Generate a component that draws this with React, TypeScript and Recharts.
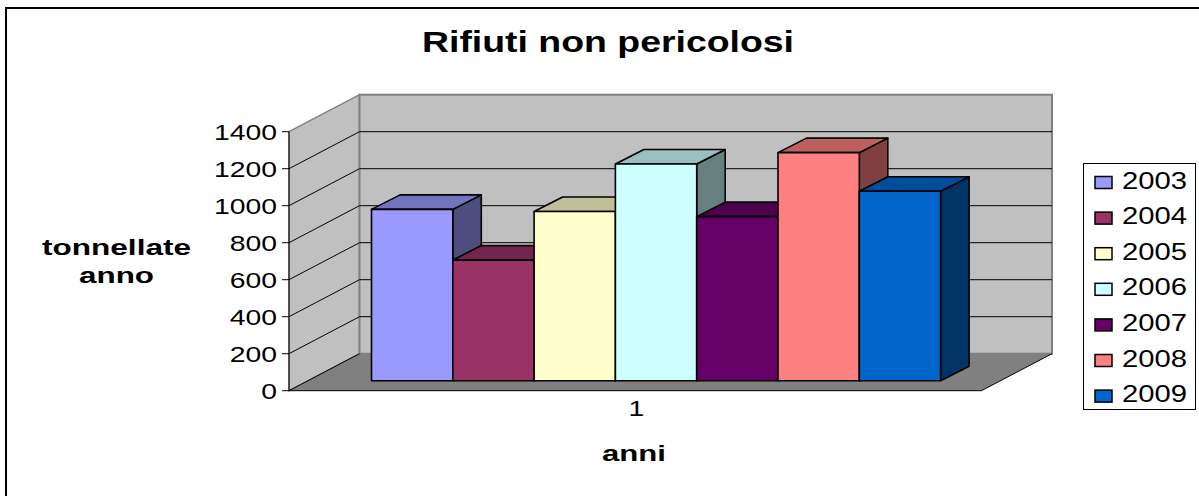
import React from "react";
import { BarChart, Bar, XAxis, YAxis, CartesianGrid, Legend, Label, Customized } from "recharts";

const categories = ["1"];
const years = ["2003", "2004", "2005", "2006", "2007", "2008", "2009"];
const tonnes = [926, 652, 915, 1171, 887, 1233, 1024];
const colors = ["#9999FF", "#993366", "#FFFFCC", "#CCFFFF", "#660066", "#FF8080", "#0066CC"];
const yTicks = [0, 200, 400, 600, 800, 1000, 1200, 1400];
const titleText = "Rifiuti non pericolosi";
const xTitle = "anni";
const yTitleLines = ["tonnellate", "anno"];

const data = categories.map((name) => {
  const row: Record<string, string | number> = { name };
  years.forEach((y, i) => (row[y] = tonnes[i]));
  return row;
});

const FONT = "'Liberation Sans', Arial, sans-serif";
const W = 1199, H = 496;
const plot = { left: 289, right: 981.5, top: 131.7, bottom: 390.7 };
const wall = { dx: 70.5, dy: -37 };
const barShift = { dx: 20.5, dy: -10 };
const barDepth = { dx: 28.5, dy: -14.5 };
const DIGIT_W = 15.75;

function shade(hex: string, k: number) {
  const n = parseInt(hex.slice(1), 16);
  const f = (v: number) => Math.round(v * k);
  return `rgb(${f((n >> 16) & 255)},${f((n >> 8) & 255)},${f(n & 255)})`;
}

function Box3D(props: any) {
  const { x, y, width, height, fill } = props;
  const l = x + barShift.dx, t = y + barShift.dy, r = l + width, b = t + height;
  const { dx, dy } = barDepth;
  const common = { stroke: "#000", strokeWidth: 1.6, strokeLinejoin: "round" as const };
  return (
    <g>
      <polygon points={`${r},${t} ${r + dx},${t + dy} ${r + dx},${b + dy} ${r},${b}`} fill={shade(fill, 0.5)} {...common} />
      <polygon points={`${l},${t} ${l + dx},${t + dy} ${r + dx},${t + dy} ${r},${t}`} fill={shade(fill, 0.75)} {...common} />
      <rect x={l} y={t} width={width} height={height} fill={fill} {...common} />
    </g>
  );
}

function WallShapes() {
  const { left, right, top, bottom } = plot;
  const bl = left + wall.dx, br = right + wall.dx, bt = top + wall.dy, bb = bottom + wall.dy;
  return (
    <g>
      <polygon points={`${left},${top} ${bl},${bt} ${bl},${bb} ${left},${bottom}`} fill="#C0C0C0" stroke="#808080" strokeWidth={1.5} />
      <rect x={bl} y={bt} width={br - bl} height={bb - bt} fill="#C0C0C0" stroke="#808080" strokeWidth={2} />
      <polygon points={`${left},${bottom} ${bl},${bb} ${br},${bb} ${right},${bottom}`} fill="#808080" />
      <line x1={right} y1={bottom} x2={br} y2={bb} stroke="#000" strokeWidth={1} />
      <line x1={left} y1={bottom} x2={bl} y2={bb} stroke="#000" strokeWidth={1} />
    </g>
  );
}

function Frame() {
  return (
    <g>
      <path d={`M6 ${H} V8 H${W}`} fill="none" stroke="#000" strokeWidth={2} />
      <text x={608} y={52} textAnchor="middle" fontFamily={FONT} fontWeight="bold" fontSize={30} textLength={372} lengthAdjust="spacingAndGlyphs" fill="#000">
        {titleText}
      </text>
    </g>
  );
}

function GridLine(props: any) {
  const { x1, x2, y1, index } = props;
  const skip = Math.abs(y1 - plot.top) < 2 || Math.abs(y1 - plot.bottom) < 2;
  return (
    <g>
      {index === 0 && <WallShapes />}
      {!skip && (
        <polyline
          points={`${x1},${y1} ${x1 + wall.dx},${y1 + wall.dy} ${x2 + wall.dx},${y1 + wall.dy}`}
          fill="none"
          stroke="#000"
          strokeWidth={1}
        />
      )}
    </g>
  );
}

function YTick(props: any) {
  const { x, y, payload } = props;
  const s = String(payload.value);
  return (
    <text x={x} y={y + 8} textAnchor="end" fontFamily={FONT} fontSize={22} fill="#000" textLength={s.length * DIGIT_W} lengthAdjust="spacingAndGlyphs">
      {s}
    </text>
  );
}

function XTick(props: any) {
  const { x, payload } = props;
  const s = String(payload.value);
  return (
    <text x={x + 1} y={416} textAnchor="middle" fontFamily={FONT} fontSize={22} fill="#000" textLength={s.length * DIGIT_W} lengthAdjust="spacingAndGlyphs">
      {s}
    </text>
  );
}

function YTitle() {
  const widths = [149, 75];
  const baselines = [255, 283];
  return (
    <g>
      {yTitleLines.map((t, i) => (
        <text key={t} x={116.5} y={baselines[i]} textAnchor="middle" fontFamily={FONT} fontWeight="bold" fontSize={22} fill="#000" textLength={widths[i]} lengthAdjust="spacingAndGlyphs">
          {t}
        </text>
      ))}
    </g>
  );
}

function XTitle() {
  return (
    <text x={634} y={461} textAnchor="middle" fontFamily={FONT} fontWeight="bold" fontSize={22} fill="#000" textLength={64} lengthAdjust="spacingAndGlyphs">
      {xTitle}
    </text>
  );
}

function LegendBox(props: any) {
  const items = props.payload || [];
  return (
    <svg width={114} height={250} style={{ display: "block" }}>
      <rect x={0.5} y={0.5} width={112} height={246} fill="#fff" stroke="#000" strokeWidth={1} />
      {items.map((it: any, i: number) => {
        const cy = 17.5 + i * 35.6;
        return (
          <g key={it.value}>
            <rect x={12} y={cy - 4} width={17} height={12} fill={it.color} stroke="#000" strokeWidth={1.5} />
            <text x={39} y={cy + 8} fontFamily={FONT} fontSize={23} fill="#000" textLength={65} lengthAdjust="spacingAndGlyphs">
              {it.value}
            </text>
          </g>
        );
      })}
    </svg>
  );
}

export default function App() {
  return (
    <div style={{ position: "absolute", left: 0, top: 0, width: W, height: H, background: "#fff" }}>
      <BarChart
        width={W}
        height={H}
        data={data}
        barGap={0}
        barSize={81.3}
        margin={{ top: plot.top, bottom: H - plot.bottom - 30, left: plot.left - 70, right: W - plot.right }}
      >
        <Customized component={Frame} />
        <CartesianGrid vertical={false} horizontal={GridLine as any} />
        <XAxis dataKey="name" height={30} stroke="#000" tickLine={false} tick={XTick as any}>
          <Label content={XTitle as any} />
        </XAxis>
        <YAxis width={70} domain={[0, 1400]} ticks={yTicks} interval={0} stroke="#000" tickSize={7} tickMargin={5} tick={YTick as any}>
          <Label content={YTitle as any} />
        </YAxis>
        <Legend
          layout="vertical"
          align="center"
          verticalAlign="middle"
          content={LegendBox as any}
          wrapperStyle={{ left: 1083, top: 163, width: 114, height: 250 }}
        />
        {years.map((y, i) => (
          <Bar key={y} dataKey={y} name={y} fill={colors[i]} isAnimationActive={false} shape={Box3D as any} />
        ))}
      </BarChart>
    </div>
  );
}
